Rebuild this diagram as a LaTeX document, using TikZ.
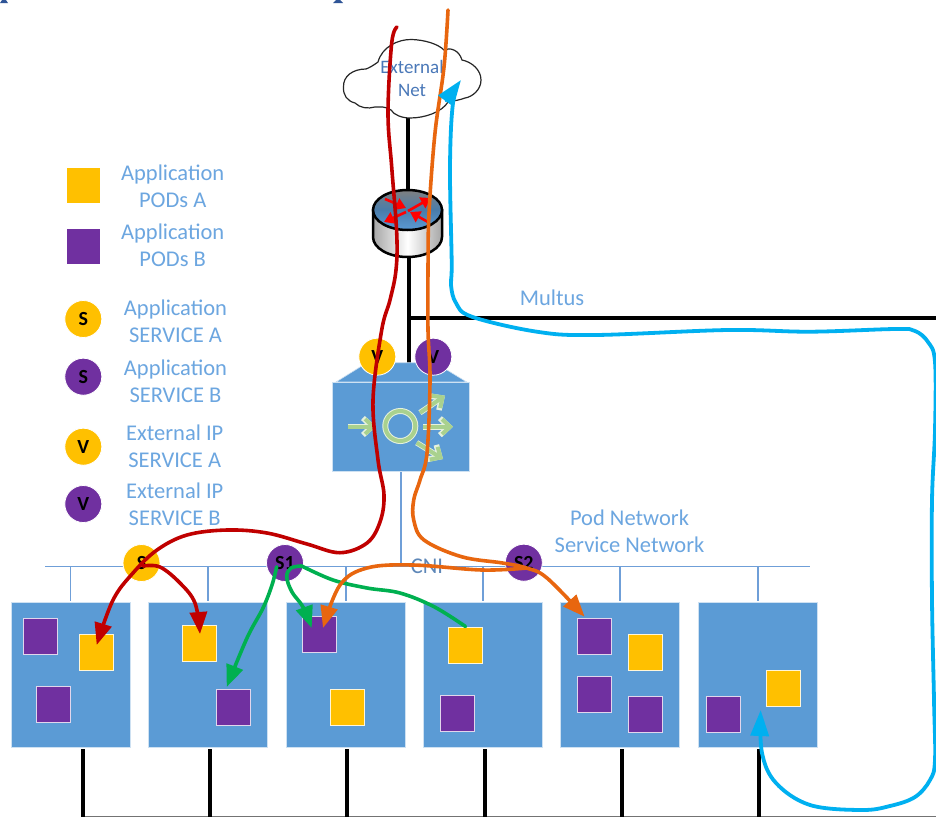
\documentclass[tikz,border=0pt]{standalone}
\usepackage{fontspec}
\setmainfont{Carlito}
\usetikzlibrary{arrows.meta,shapes.geometric}
\definecolor{cbox}{HTML}{5B9BD5}
\definecolor{cyel}{HTML}{FFC000}
\definecolor{cpur}{HTML}{7030A0}
\definecolor{cred}{HTML}{C00000}
\definecolor{cgrn}{HTML}{00B050}
\definecolor{corg}{HTML}{E8660F}
\definecolor{cblu}{HTML}{00B0F0}
\definecolor{clab}{HTML}{6CA6E0}
\definecolor{cnet}{HTML}{6F9FD8}
\definecolor{clgr}{HTML}{A9D18E}
\definecolor{ctop}{HTML}{2F5597}
\definecolor{cext}{HTML}{4A78B8}
\tikzset{
  hostbox/.style={rectangle,fill=cbox,draw=white!70!cbox,line width=.6pt,minimum width=119pt,minimum height=145pt,inner sep=0},
  poda/.style={rectangle,fill=cyel,draw=white!85!cyel,line width=1pt,minimum width=34pt,minimum height=36pt,inner sep=0},
  podb/.style={rectangle,fill=cpur,draw=white!80!cpur,line width=1pt,minimum width=34pt,minimum height=36pt,inner sep=0},
  circa/.style={circle,fill=cyel,draw=white,line width=.8pt,minimum size=37pt,inner sep=0,font=\fontsize{20}{20}\selectfont\bfseries,text=black},
  circb/.style={circle,fill=cpur,draw=white,line width=.8pt,minimum size=37pt,inner sep=0,font=\fontsize{20}{20}\selectfont\bfseries,text=black},
  lab/.style={text=clab,align=center,inner sep=0,font=\fontsize{22.5}{27}\selectfont},
  wire/.style={draw=black,line width=3.2pt},
  netline/.style={draw=cnet,line width=1.5pt},
  flow/.style={line width=3.6pt,line cap=round,-{Triangle[length=22pt,width=17pt]}},
  flowplain/.style={line width=3.6pt,line cap=round},
  rarrow/.style={draw=red,line width=2.6pt,-{Triangle[length=10pt,width=12pt]}},
  lbarrow/.style={draw=clgr,line width=4pt,-{Straight Barb[length=8pt,width=15pt]}},
  lbarrowbg/.style={draw=white!70!clgr,line width=5.6pt,-{Straight Barb[length=9pt,width=17pt]}},
}
\begin{document}
\begin{tikzpicture}[x=1pt,y=-1pt]
\path[use as bounding box,clip] (0,0) rectangle (936,817);
\fill[white] (0,0) rectangle (936,817);
% clipped text remnants at the top
\fill[ctop] (0,3) -- (2,0) -- (6,0) -- (8,3) -- cycle;
\fill[ctop] (333,3) -- (336,0) -- (340,0) -- (343,3) -- cycle;

% coordinates of wires
\coordinate (cloudbot) at (408,118);
\coordinate (rttop) at (408,192);
\coordinate (rtbot) at (409,256);
\coordinate (lbtop) at (409,364);
\coordinate (mjoin) at (409,318);
\coordinate (medge) at (936,318);
\coordinate (netL) at (45,566.7);
\coordinate (netR) at (810,566.7);

% black wires
\draw[wire] (cloudbot) -- (rttop);
\draw[wire] (rtbot) -- (lbtop);
\draw[wire] (mjoin) -- (medge);

% hosts
\node[hostbox] (h1) at (70.5,674.5) {};
\node[hostbox] (h2) at (207.5,674.5) {};
\node[hostbox] (h3) at (345.5,674.5) {};
\node[hostbox] (h4) at (482.5,674.5) {};
\node[hostbox] (h5) at (620,674.5) {};
\node[hostbox] (h6) at (757.5,674.5) {};

% pod network
\draw[netline] (netL) -- (netR);
\coordinate (lbdown) at (401,472);
\coordinate (lbnet) at (401,566.7);
\draw[netline] (lbdown) -- (lbnet);
\foreach \h/\x in {h1/70.5,h2/208,h3/346,h4/483,h5/620,h6/758}{
  \coordinate (st\h) at (\x,566.7);
  \draw[netline] (st\h) -- (\x,601);
}
% bottom wires
\coordinate (busL) at (83,816.5);
\coordinate (busR) at (936,816.5);
\draw[draw=black!55,line width=1.5pt] (busL) -- (busR);
\foreach \x in {83,210,347,485,622,759}{
  \draw[wire] (\x,749) -- (\x,817);
}

% pods
\node[podb] (p1a) at (40,636.5) {};
\node[poda] (p1b) at (96.5,652.7) {};
\node[podb] (p1c) at (53,704.5) {};
\node[poda] (p2a) at (199,643.5) {};
\node[podb] (p2b) at (233.5,707) {};
\node[podb] (p3a) at (319,634.5) {};
\node[poda] (p3b) at (347.5,707) {};
\node[poda] (p4a) at (465.5,645) {};
\node[podb] (p4b) at (457,713) {};
\node[podb] (p5a) at (594.5,636.5) {};
\node[poda] (p5b) at (645.7,652.5) {};
\node[podb] (p5c) at (594.5,694.5) {};
\node[podb] (p5d) at (645.7,714) {};
\node[podb] (p6a) at (723.5,714) {};
\node[poda] (p6b) at (783.5,688.5) {};

% service circles
\node[circa] (sa) at (141.5,563) {S};
\node[circb] (s1) at (285,563) {S1};
\node[circb] (s2) at (523.8,562.7) {S2};

% load balancer
\fill[cbox,draw=white!70!cbox,line width=.6pt] (336,382) -- (367,362.7) -- (435,362.7) -- (466.7,382) -- cycle;
\node[rectangle,fill=cbox,draw=white!70!cbox,line width=.6pt,minimum width=136.5pt,minimum height=89pt,inner sep=0] (lb) at (400.8,426.5) {};
\coordinate (la) at (348,426.5); \coordinate (lb1) at (376,426.5);
\coordinate (ra) at (423,426.7); \coordinate (rb) at (453,426.7);
\coordinate (ua) at (420,412.7); \coordinate (ub) at (445,395.7);
\coordinate (da) at (416.7,442.7); \coordinate (db) at (443,459);
\foreach \p/\q in {la/lb1,ra/rb,ua/ub,da/db}{
  \draw[lbarrowbg] (\p) -- (\q);
}
\foreach \p/\q in {la/lb1,ra/rb,ua/ub,da/db}{
  \draw[lbarrow] (\p) -- (\q);
}
\node[circle,draw=white!70!clgr,line width=6pt,minimum size=30pt,inner sep=0] (ring) at (400.3,426) {};
\node[circle,draw=clgr,line width=4pt,minimum size=30pt,inner sep=0] (ringb) at (400.3,426) {};

\node[circa] (va) at (377.3,356.7) {V};
\node[circb] (vb) at (433.3,356.7) {V};

% router
\shade[left color=black!35,right color=black!35,middle color=white,draw=black,line width=2.5pt]
  (373,210) -- (373,237) arc[start angle=180,end angle=360,x radius=34.5,y radius=-20] -- (442,210) -- cycle;
\shade[top color=black!50,bottom color=cbox,middle color=cbox!80!black,draw=black,line width=2.5pt]
  (407.5,210) ellipse[x radius=34.5,y radius=20];
\coordinate (rc) at (407.5,210);
\draw[rarrow] (408,211) -- (431,198);
\draw[rarrow] (428,222) -- (410,212);
\draw[rarrow] (385,199) -- (406,208);
\draw[rarrow] (406,212) -- (384,222);

% cloud
\draw[fill=white,draw=black!85,line width=1.2pt]
 (343.5,87) .. controls (343,76) and (353,69) .. (366,69)
 .. controls (369,68) and (374,65) .. (378,62)
 .. controls (382,47) and (398,39) .. (412,39.5)
 .. controls (425,40) and (438,44) .. (444,50)
 .. controls (450,47) and (459,50) .. (462,60)
 .. controls (472,62) and (481,70) .. (481,80)
 .. controls (481,90) and (472,97) .. (465,98)
 .. controls (460,100) and (453,101) .. (448,102)
 .. controls (442,112) and (425,118) .. (410,118)
 .. controls (402,118) and (394,115) .. (391,110)
 .. controls (385,106) and (380,107) .. (375,107)
 .. controls (368,109) and (360,108) .. (355,103)
 .. controls (347,101) and (343,95) .. (343.5,87) -- cycle;
\node[align=center,inner sep=0,text=cext,font=\fontsize{19}{23}\selectfont] (ext) at (412,78.5) {External\\Net};

% legend
\node[rectangle,fill=cyel,minimum width=33.5pt,minimum height=35pt,inner sep=0] (la1) at (83.3,185.7) {};
\node[rectangle,fill=cpur,minimum width=33.5pt,minimum height=35pt,inner sep=0] (la2) at (83.3,246.5) {};
\node[circa] (lc1) at (83.3,319) {S};
\node[circb] (lc2) at (83.3,376.7) {S};
\node[circa] (lc3) at (83.3,446.7) {V};
\node[circb] (lc4) at (83.3,504) {V};
\node[lab] (t1) at (172.7,186.5) {Application\\PODs A};
\node[lab] (t2) at (172.7,245.5) {Application\\PODs B};
\node[lab] (t3) at (175.5,321) {Application\\SERVICE A};
\node[lab] (t4) at (175.5,381) {Application\\SERVICE B};
\node[lab] (t5) at (174.7,446.5) {External IP\\SERVICE A};
\node[lab] (t6) at (174.7,504.5) {External IP\\SERVICE B};
\node[lab] (t7) at (552,298) {Multus};
\node[lab] (t8) at (629.5,531.5) {Pod Network\\Service Network};
\node[lab,text=cnet!85!black] (t9) at (427,566) {CNI};

% flows
\coordinate (redtop) at (397,27);
\coordinate (orgtop) at (448,10);
\coordinate (tipa) at (96.7,645);
\coordinate (tipb) at (200,634);
\coordinate (tipc) at (226.7,687);
\coordinate (tipd) at (311.7,628);
\coordinate (tipe) at (323,628);
\coordinate (tipf) at (584.6,616.7);
\coordinate (tipg) at (760.7,710);
\coordinate (tiph) at (461,80);

\draw[flow,draw=cred] plot[smooth,tension=.6] coordinates {(redtop) (391.7,43) (388,113) (391.7,167) (396.7,233) (396,270) (390,300) (381.7,330) (373,400) (378,460) (384,495) (380,522) (367,543) (340,552.7) (307,544) (267,533) (227,530) (187,535) (157,550) (133,573) (113,600) (tipa)};
\draw[flow,draw=cred] plot[smooth,tension=.6] coordinates {(143,566) (160,567) (180,583) (195,603) (tipb)};
\draw[flow,draw=cgrn] plot[smooth,tension=.6] coordinates {(276.7,566.7) (272,585) (263,608) (247,638) (tipc)};
\draw[flow,draw=cgrn] plot[smooth,tension=.6] coordinates {(301.7,566) (291,568) (286.7,577) (292,592) (303,607) (tipd)};
\draw[flowplain,draw=cgrn] plot[smooth,tension=.6] coordinates {(301.7,566) (333,580) (367,588) (400,593) (434,606.7) (p4a.north)};
\draw[flow,draw=corg] plot[smooth,tension=.6] coordinates {(orgtop) (444,67) (435,133) (429,213) (428,270) (428,330) (430,380) (427,453) (420,480) (413.7,500) (413.7,520) (424,540) (461.5,556.7) (502.6,563) (526.5,568) (547,578) (tipf)};
\draw[flow,draw=corg] plot[smooth,tension=.6] coordinates {(526.5,568) (482,570) (413,565) (367,568) (340,585) (tipe)};
\draw[line width=3.8pt,line cap=round,draw=cblu,{Triangle[length=26pt,width=18pt]}-{Triangle[length=26pt,width=18pt]}] plot[smooth,tension=.6] coordinates {(tiph) (453,103) (450,167) (451.7,263) (451,285) (456,303) (471.8,316.7) (536.8,331.7) (595,335) (728,330) (810,331.7) (895.7,329) (915,331) (928,342) (935,362) (935,430) (932,500) (932,600) (934,700) (935,760) (930,780) (915,797) (890,806) (861.5,810) (810,805) (776,783) (762,753) (tipg)};
\end{tikzpicture}
\end{document}
